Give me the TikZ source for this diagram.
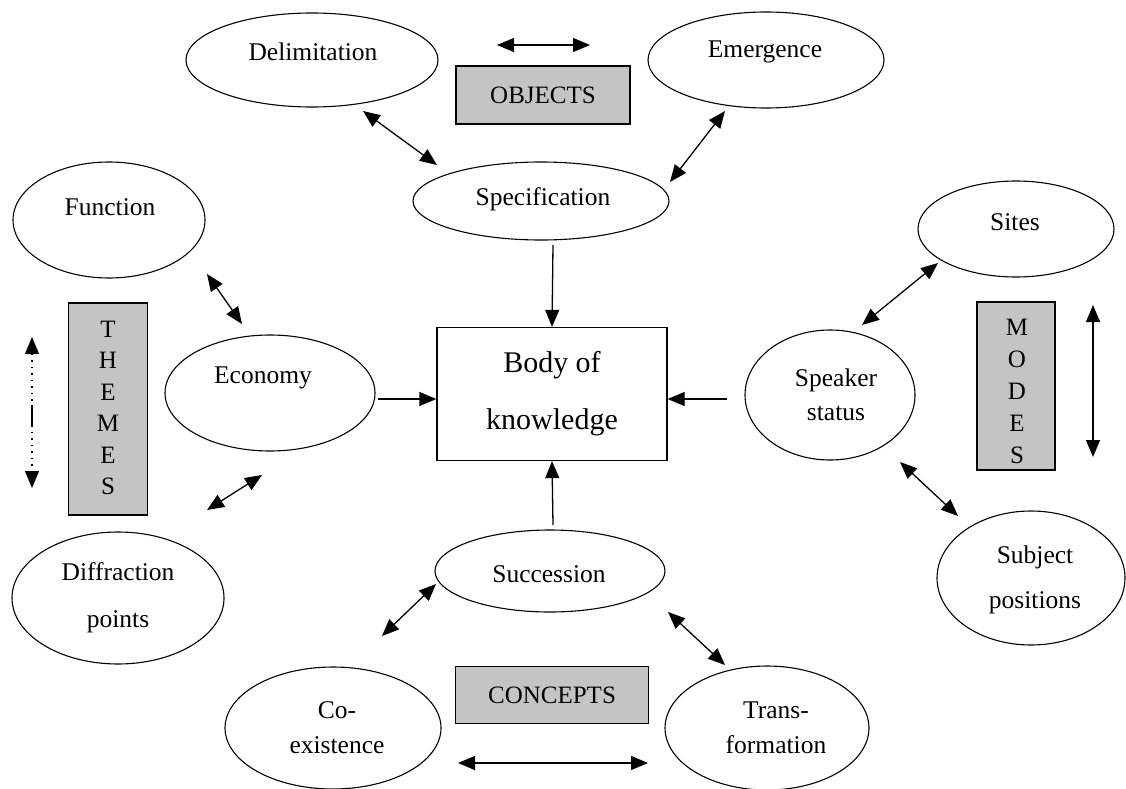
\documentclass[tikz,border=0pt]{standalone}
\usepackage{fontspec}
\setmainfont{Liberation Serif}
\usetikzlibrary{shapes.geometric,arrows.meta}
\definecolor{boxgray}{gray}{0.77}
\begin{document}
\begin{tikzpicture}[x=1pt,y=-1pt,
  oval/.style={draw, ellipse, line width=1.1pt, inner sep=0pt},
  lbl/.style={inner sep=0pt, align=center, font=\fontsize{25.5}{34}\selectfont},
  graybox/.style={draw, line width=1.3pt, fill=boxgray, inner sep=0pt},
  both/.style={line width=1.3pt, {Triangle[length=17pt,width=14pt]}-{Triangle[length=17pt,width=14pt]}},
  single/.style={line width=1.3pt, -{Triangle[length=17pt,width=14pt]}}
]
\useasboundingbox (0,0) rectangle (1126,789);

% ---- ellipses ----
\node[oval, minimum width=252, minimum height=94] (delim) at (312,60) {};
\node[lbl] (delim-t) at (313,52) {Delimitation};
\node[oval, minimum width=236, minimum height=96] (emerg) at (766,60) {};
\node[lbl] (emerg-t) at (765,52) {Emergence};
\node[oval, minimum width=256, minimum height=78] (spec) at (541,201) {};
\node[lbl] (spec-t) at (543,199) {Specification};

\node[oval, minimum width=192, minimum height=116] (func) at (109,220) {};
\node[lbl] (func-t) at (110,207) {Function};
\node[oval, minimum width=210, minimum height=116] (econ) at (270,393) {};
\node[lbl] (econ-t) at (263,378) {Economy};
\node[oval, minimum width=212, minimum height=132] (diff) at (118,598) {};
\node[lbl, font=\fontsize{25.5}{47}\selectfont] (diff-t) at (118,598) {Diffraction\\points};

\node[oval, minimum width=196, minimum height=96] (sites) at (1016,229) {};
\node[lbl] (sites-t) at (1015,222) {Sites};
\node[oval, minimum width=170, minimum height=130] (speak) at (830,395) {};
\node[lbl, font=\fontsize{25.5}{34}\selectfont] (speak-t) at (836,395) {Speaker\\status};
\node[oval, minimum width=188, minimum height=134] (subj) at (1031,578) {};
\node[lbl, font=\fontsize{25.5}{45}\selectfont] (subj-t) at (1035,580) {Subject\\positions};

\node[oval, minimum width=230, minimum height=82] (succ) at (550,571) {};
\node[lbl] (succ-t) at (549,574) {Succession};
\node[oval, minimum width=216, minimum height=122] (coex) at (333,728) {};
\node[lbl, font=\fontsize{25.5}{35}\selectfont] (coex-t) at (337,728) {Co-\\existence};
\node[oval, minimum width=204, minimum height=124] (trans) at (767,728) {};
\node[lbl, font=\fontsize{25.5}{35}\selectfont] (trans-t) at (776,728) {Trans-\\formation};

% ---- central box ----
\node[draw, line width=1.3pt, minimum width=230, minimum height=133, inner sep=0pt,
      align=center, font=\fontsize{30}{57}\selectfont] (body) at (552,394) {Body of\\knowledge};

% ---- gray title boxes ----
\node[graybox, minimum width=174, minimum height=58, font=\fontsize{25}{30}\selectfont] (objects) at (543,95) {OBJECTS};
\node[graybox, minimum width=193, minimum height=57, font=\fontsize{25}{30}\selectfont] (concepts) at (552,695) {CONCEPTS};
\node[graybox, minimum width=79, minimum height=212] (themes) at (108,409) {};
\node[lbl, font=\fontsize{25}{31.5}\selectfont] (themes-t) at (108,408) {T\\H\\E\\M\\E\\S};
\node[graybox, minimum width=78, minimum height=168] (modes) at (1016,386) {};
\node[lbl, font=\fontsize{25}{32}\selectfont] (modes-t) at (1017,391) {M\\O\\D\\E\\S};

% ---- free arrow end points ----
\coordinate (objL) at (497,45);   \coordinate (objR) at (590,45);
\coordinate (dsA) at (363,111);   \coordinate (dsB) at (437,165);
\coordinate (esA) at (725,111);   \coordinate (esB) at (670,182);
\coordinate (sbA) at (553,245);
\coordinate (feA) at (207,274);   \coordinate (feB) at (242,324);
\coordinate (ebA) at (378,399);
\coordinate (edA) at (262,475);   \coordinate (edB) at (207,510);
\coordinate (thU) at (32,337);    \coordinate (thD) at (32,488);
\coordinate (thM1) at (32,405);   \coordinate (thM2) at (32,427);
\coordinate (pbA) at (727,399);
\coordinate (spA) at (938,263);   \coordinate (spB) at (862,325);
\coordinate (sjA) at (900,462);   \coordinate (sjB) at (958,516);
\coordinate (moU) at (1093,305);  \coordinate (moD) at (1093,457);
\coordinate (cbA) at (553,525);
\coordinate (scA) at (436,584);   \coordinate (scB) at (382,636);
\coordinate (stA) at (668,612);   \coordinate (stB) at (725,665);
\coordinate (conL) at (458,763); \coordinate (conR) at (648,763);

% ---- connectors ----
\draw[both] (objL) -- (objR);
\draw[both] (dsA) -- (dsB);
\draw[both] (esA) -- (esB);
\draw[single] (sbA) -- (body.north);
\draw[both] (feA) -- (feB);
\draw[single] (ebA) -- (body.west |- ebA);
\draw[both] (edA) -- (edB);
\draw[both, line width=1.1pt, dash pattern=on 1.5pt off 5pt] (thU) -- (thD);
\draw[line width=1.1pt] (thM1) -- (thM2);
\draw[single] (pbA) -- (body.east |- pbA);
\draw[both] (spA) -- (spB);
\draw[both] (sjA) -- (sjB);
\draw[both] (moU) -- (moD);
\draw[single] (cbA) -- (body.south);
\draw[both] (scA) -- (scB);
\draw[both] (stA) -- (stB);
\draw[both] (conL) -- (conR);
\end{tikzpicture}
\end{document}
